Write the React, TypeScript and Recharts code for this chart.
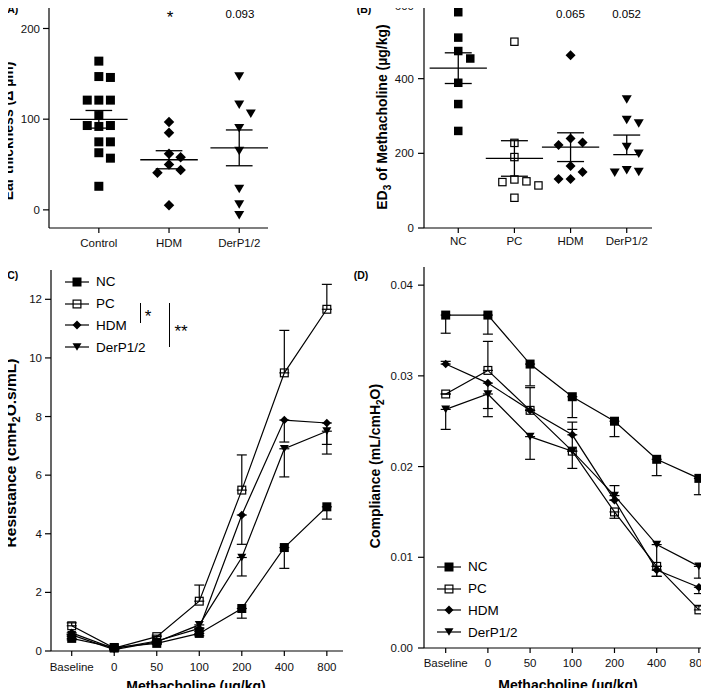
import React from "react";
import {
  ScatterChart,
  Scatter,
  LineChart,
  Line,
  XAxis,
  YAxis,
  ReferenceLine,
  ErrorBar,
  Legend,
} from "recharts";

const FONT = '"Liberation Sans", Arial, Helvetica, sans-serif';

// (A) ear thickness, delta µm
const earGroups = ["Control", "HDM", "DerP1/2"];
const earControl = [164, 147, 146, 121, 121, 121, 104, 93, 93, 92, 75, 75, 63, 57, 26];
const earHDM = [97, 85, 62, 58, 50, 44, 41, 5];
const earDerP = [147, 116, 106, 90, 65, 23, 6, -6];
const earPvals = ["", "*", "0.093"];

// (B) ED3 of methacholine, µg/kg
const edGroups = ["NC", "PC", "HDM", "DerP1/2"];
const edNC = [578, 510, 474, 454, 389, 332, 260];
const edPC = [499, 228, 190, 130, 125, 123, 114, 81];
const edHDM = [463, 240, 229, 222, 166, 150, 131, 131];
const edDerP = [344, 289, 280, 217, 199, 155, 150, 148];
const edPvals = ["", "", "0.065", "0.052"];

// (C) resistance and (D) compliance vs methacholine dose
const doses = ["Baseline", "0", "50", "100", "200", "400", "800"];
const seriesNames = ["NC", "PC", "HDM", "DerP1/2"];

const resNC = [0.43, 0.12, 0.26, 0.6, 1.45, 3.53, 4.92];
const resPC = [0.86, 0.1, 0.49, 1.7, 5.49, 9.49, 11.66];
const resHDM = [0.62, 0.08, 0.34, 0.77, 4.64, 7.88, 7.78];
const resDerP = [0.55, 0.05, 0.31, 0.89, 3.19, 6.9, 7.5];
// [down, up]
const resNCErr = [[0.05, 0], [0.03, 0], [0.04, 0], [0.08, 0], [0.33, 0], [0.71, 0], [0.42, 0]];
const resPCErr = [[0, 0.1], [0, 0.03], [0, 0.05], [0, 0.55], [0, 1.2], [0, 1.45], [0, 0.85]];
const resHDMErr = [[0.05, 0], [0.02, 0], [0.04, 0], [0.1, 0], [1.0, 0], [0.75, 0], [0.73, 0]];
const resDerPErr = [[0.05, 0], [0.02, 0], [0.04, 0], [0.1, 0], [0.63, 0], [0.96, 0], [0.78, 0]];

const compNC = [0.0367, 0.0367, 0.0313, 0.0277, 0.025, 0.0208, 0.0187];
const compPC = [0.028, 0.0306, 0.0262, 0.0217, 0.015, 0.009, 0.0042];
const compHDM = [0.0313, 0.0292, 0.0262, 0.0235, 0.0163, 0.0086, 0.0067];
const compDerP = [0.0263, 0.028, 0.0233, 0.0217, 0.0168, 0.0114, 0.009];
const compNCErr = [[0.002, 0], [0.0021, 0], [0.0024, 0], [0.0023, 0], [0.0017, 0], [0.0018, 0], [0.0018, 0]];
const compPCErr = [[0, 0], [0, 0.0032], [0, 0.0025], [0, 0.0024], [0.0007, 0], [0, 0], [0, 0.0005]];
const compHDMErr = [[0, 0.0003], [0.0028, 0], [0, 0], [0, 0.0014], [0, 0], [0.0007, 0], [0.0007, 0]];
const compDerPErr = [[0.0022, 0], [0.0025, 0], [0.0025, 0], [0.0019, 0], [0, 0.0011], [0.0035, 0], [0.0013, 0]];

type Kind = "square" | "open" | "diamond" | "tri";
const kinds: Record<string, Kind> = { nc: "square", pc: "open", hdm: "diamond", derp: "tri" };

function Marker({ kind, cx, cy, s }: { kind: Kind; cx: number; cy: number; s: number }) {
  const h = s / 2;
  if (kind === "square") return <rect x={cx - h} y={cy - h} width={s} height={s} fill="#000" />;
  if (kind === "open")
    return (
      <rect x={cx - h + 0.6} y={cy - h + 0.6} width={s - 1.2} height={s - 1.2} fill="none" stroke="#000" strokeWidth={1.2} />
    );
  if (kind === "diamond")
    return <polygon points={`${cx},${cy - h} ${cx + h},${cy} ${cx},${cy + h} ${cx - h},${cy}`} fill="#000" />;
  const t = h * 0.85;
  return <polygon points={`${cx - h},${cy - t} ${cx + h},${cy - t} ${cx},${cy + t}`} fill="#000" />;
}

const mean = (a: number[]) => a.reduce((s, v) => s + v, 0) / a.length;
const sem = (a: number[]) => {
  const m = mean(a);
  return Math.sqrt(a.reduce((s, v) => s + (v - m) ** 2, 0) / (a.length - 1) / a.length);
};

// simple beeswarm: push points sideways when they would overlap in the same column
function swarm(values: number[], pxPerUnit: number, gapPx: number) {
  const placed: { v: number; s: number }[] = [];
  const order = [0, 1, -1, 2, -2];
  return values.map((v) => {
    const s =
      order.find((o) => placed.every((p) => p.s !== o || Math.abs(p.v - v) * pxPerUnit >= gapPx)) ?? 0;
    placed.push({ v, s });
    return s;
  });
}

function points(values: number[], group: number, pxPerUnit: number, slot: number) {
  const slots = swarm(values, pxPerUnit, 10);
  return values.map((v, i) => ({ x: group + slots[i] * slot, y: v }));
}

function statLines(values: number[], g: number, meanHalf: number, capHalf: number) {
  const m = mean(values);
  const e = sem(values);
  const st = { stroke: "#000", strokeWidth: 1.3 };
  return [
    <ReferenceLine key={`m${g}`} segment={[{ x: g - meanHalf, y: m }, { x: g + meanHalf, y: m }]} {...st} />,
    <ReferenceLine key={`v${g}`} segment={[{ x: g, y: m - e }, { x: g, y: m + e }]} {...st} />,
    <ReferenceLine key={`h${g}`} segment={[{ x: g - capHalf, y: m + e }, { x: g + capHalf, y: m + e }]} {...st} />,
    <ReferenceLine key={`l${g}`} segment={[{ x: g - capHalf, y: m - e }, { x: g + capHalf, y: m - e }]} {...st} />,
  ];
}

const tickStyle = { fill: "#111", fontSize: 11.5, fontFamily: FONT };
const axisLine = { stroke: "#000", strokeWidth: 1.2 };

// rotated axis title; (cx, cy) is the centre of the glyphs
const vLabel = (cx: number, cy: number, content: React.ReactNode, size = 14) => () => (
  <text
    transform={`translate(${cx},${cy}) rotate(-90)`}
    y={size * 0.36}
    textAnchor="middle"
    fontFamily={FONT}
    fontWeight="bold"
    fontSize={size}
    fill="#000"
  >
    {content}
  </text>
);

const hLabel = (cx: number, cy: number) => () => (
  <text x={cx} y={cy + 5} textAnchor="middle" fontFamily={FONT} fontWeight="bold" fontSize={14} fill="#000">
    Methacholine (µg/kg)
  </text>
);

function buildRows(nc: number[], pc: number[], hdm: number[], derp: number[], e: number[][][]) {
  return doses.map((d, i) => ({
    x: i,
    dose: d,
    nc: nc[i],
    pc: pc[i],
    hdm: hdm[i],
    derp: derp[i],
    ncErr: e[0][i],
    pcErr: e[1][i],
    hdmErr: e[2][i],
    derpErr: e[3][i],
  }));
}

const resRows = buildRows(resNC, resPC, resHDM, resDerP, [resNCErr, resPCErr, resHDMErr, resDerPErr]);
const compRows = buildRows(compNC, compPC, compHDM, compDerP, [compNCErr, compPCErr, compHDMErr, compDerPErr]);

const renderLegend = (props: any) => {
  const items = [...(props.payload || [])].sort(
    (a: any, b: any) => seriesNames.indexOf(a.value) - seriesNames.indexOf(b.value)
  );
  return (
    <div style={{ fontFamily: FONT, fontSize: 13.5, color: "#000" }}>
      {items.map((entry: any) => (
        <div key={entry.value} style={{ display: "flex", alignItems: "center", height: 21.8 }}>
          <svg width={24} height={12} style={{ display: "block" }}>
            <line x1={0} y1={6} x2={24} y2={6} stroke="#000" strokeWidth={1.2} />
            <Marker kind={kinds[entry.dataKey]} cx={12} cy={6} s={9} />
          </svg>
          <span style={{ marginLeft: 7, lineHeight: 1 }}>{entry.value}</span>
        </div>
      ))}
    </div>
  );
};

function seriesLines() {
  const keys = ["nc", "pc", "hdm", "derp"];
  return keys.map((k, i) => (
    <Line
      key={k}
      dataKey={k}
      name={seriesNames[i]}
      stroke="#000"
      strokeWidth={1.2}
      dot={(p: any) => <Marker key={`${k}${p.index}`} kind={kinds[k]} cx={p.cx} cy={p.cy} s={kinds[k] === "diamond" ? 8.5 : 9} />}
      activeDot={false}
      isAnimationActive={false}
    >
      <ErrorBar dataKey={`${k}Err`} width={5} stroke="#000" strokeWidth={1.2} />
    </Line>
  ));
}

const note = (left: number, top: number, text: string, extra: React.CSSProperties = {}) => (
  <div
    key={`${text}${left}`}
    style={{
      position: "absolute",
      left,
      top,
      transform: "translate(-50%, -50%)",
      fontFamily: FONT,
      fontSize: 11.5,
      color: "#000",
      whiteSpace: "nowrap",
      lineHeight: 1,
      ...extra,
    }}
  >
    {text}
  </div>
);

export default function App() {
  const earPx = 181.4 / 200;
  const edPx = 224 / 600;
  return (
    <div style={{ position: "relative", width: 709, height: 696, margin: -8, overflow: "hidden", background: "#fff" }}>
      {/* (A) */}
      <div style={{ position: "absolute", left: 0, top: 0 }}>
        <ScatterChart width={355} height={260} margin={{ top: 4, right: 87, bottom: 0, left: 0 }}>
          <XAxis
            type="number"
            dataKey="x"
            domain={[0.29, 3.41]}
            ticks={[1, 2, 3]}
            tickFormatter={(v: number) => earGroups[v - 1]}
            interval={0}
            height={32}
            tick={tickStyle}
            axisLine={axisLine}
            tickLine={axisLine}
            tickSize={5}
            tickMargin={6}
          />
          <YAxis
            type="number"
            dataKey="y"
            domain={[-20, 227]}
            ticks={[0, 100, 200]}
            width={49}
            tick={tickStyle}
            axisLine={axisLine}
            tickLine={axisLine}
            tickSize={6}
            tickMargin={3}
            label={vLabel(8, 131, "Ear thickness (Δ µm)")}
          />
          <Scatter data={points(earControl, 1, earPx, 0.165)} isAnimationActive={false}
            shape={(p: any) => <Marker kind="square" cx={p.cx} cy={p.cy} s={9} />} />
          <Scatter data={points(earHDM, 2, earPx, 0.165)} isAnimationActive={false}
            shape={(p: any) => <Marker kind="diamond" cx={p.cx} cy={p.cy} s={10.5} />} />
          <Scatter data={points(earDerP, 3, earPx, 0.165)} isAnimationActive={false}
            shape={(p: any) => <Marker kind="tri" cx={p.cx} cy={p.cy} s={10} />} />
          {statLines(earControl, 1, 0.41, 0.19)}
          {statLines(earHDM, 2, 0.41, 0.19)}
          {statLines(earDerP, 3, 0.41, 0.19)}
        </ScatterChart>
      </div>
      {note(11, 9, "(A)", { fontWeight: "bold", fontSize: 10.5 })}
      {earPvals.map((t, i) => (t ? note(100 + i * 70, t === "*" ? 17 : 15, t, t === "*" ? { fontSize: 17 } : {}) : null))}

      {/* (B) */}
      <div style={{ position: "absolute", left: 355, top: 0 }}>
        <ScatterChart width={354} height={260} margin={{ top: 4, right: 57, bottom: 0, left: 0 }}>
          <XAxis
            type="number"
            dataKey="x"
            domain={[0.39, 4.45]}
            ticks={[1, 2, 3, 4]}
            tickFormatter={(v: number) => edGroups[v - 1]}
            interval={0}
            height={32}
            tick={tickStyle}
            axisLine={axisLine}
            tickLine={axisLine}
            tickSize={5}
            tickMargin={4}
          />
          <YAxis
            type="number"
            dataKey="y"
            domain={[0, 600]}
            ticks={[0, 200, 400, 600]}
            width={69}
            tick={tickStyle}
            axisLine={axisLine}
            tickLine={axisLine}
            tickSize={6}
            tickMargin={4}
            label={vLabel(
              27,
              117,
              <>
                ED<tspan fontSize={10} dy={4}>3</tspan>
                <tspan dy={-4}> of Methacholine (µg/kg)</tspan>
              </>
            )}
          />
          <Scatter data={points(edNC, 1, edPx, 0.214)} isAnimationActive={false}
            shape={(p: any) => <Marker kind="square" cx={p.cx} cy={p.cy} s={8.5} />} />
          <Scatter data={points(edPC, 2, edPx, 0.214)} isAnimationActive={false}
            shape={(p: any) => <Marker kind="open" cx={p.cx} cy={p.cy} s={8.5} />} />
          <Scatter data={points(edHDM, 3, edPx, 0.214)} isAnimationActive={false}
            shape={(p: any) => <Marker kind="diamond" cx={p.cx} cy={p.cy} s={10} />} />
          <Scatter data={points(edDerP, 4, edPx, 0.214)} isAnimationActive={false}
            shape={(p: any) => <Marker kind="tri" cx={p.cx} cy={p.cy} s={10} />} />
          {statLines(edNC, 1, 0.51, 0.24)}
          {statLines(edPC, 2, 0.51, 0.24)}
          {statLines(edHDM, 3, 0.51, 0.24)}
          {statLines(edDerP, 4, 0.51, 0.24)}
        </ScatterChart>
      </div>
      {note(364, 9, "(B)", { fontWeight: "bold", fontSize: 10.5 })}
      {edPvals.map((t, i) => (t ? note(458 + i * 56.2, 15, t) : null))}

      {/* (C) */}
      <div style={{ position: "absolute", left: 0, top: 260 }}>
        <LineChart width={355} height={436} data={resRows} margin={{ top: 10, right: 12, bottom: 0, left: 0 }}>
          <XAxis
            type="number"
            dataKey="x"
            domain={[-0.487, 6.38]}
            ticks={[0, 1, 2, 3, 4, 5, 6]}
            tickFormatter={(v: number) => doses[v]}
            interval={0}
            height={45}
            tick={tickStyle}
            axisLine={axisLine}
            tickLine={axisLine}
            tickSize={5}
            tickMargin={7}
            label={hLabel(196, 426)}
          />
          <YAxis
            type="number"
            domain={[0, 13]}
            ticks={[0, 2, 4, 6, 8, 10, 12]}
            width={51}
            tick={tickStyle}
            axisLine={axisLine}
            tickLine={axisLine}
            tickSize={6}
            tickMargin={3}
            label={vLabel(
              10,
              193,
              <>
                Resistance (cmH<tspan fontSize={11} dy={4}>2</tspan>
                <tspan dy={-4}>O.s/mL)</tspan>
              </>,
              15.5
            )}
          />
          {seriesLines()}
          <Legend
            layout="vertical"
            align="center"
            verticalAlign="middle"
            content={renderLegend}
            wrapperStyle={{ left: 65, top: 11, width: 120 }}
          />
        </LineChart>
      </div>
      {note(11, 275, "(C)", { fontWeight: "bold", fontSize: 10.5 })}
      <div style={{ position: "absolute", left: 140, top: 303, height: 20, borderLeft: "1.3px solid #000" }} />
      {note(148, 316, "*", { fontSize: 17 })}
      <div style={{ position: "absolute", left: 169, top: 303, height: 44, borderLeft: "1.3px solid #000" }} />
      {note(181, 331, "**", { fontSize: 17 })}

      {/* (D) */}
      <div style={{ position: "absolute", left: 355, top: 260 }}>
        <LineChart width={380} height={436} data={compRows} margin={{ top: 7, right: 17, bottom: 0, left: 0 }}>
          <XAxis
            type="number"
            dataKey="x"
            domain={[-0.514, 6.453]}
            ticks={[0, 1, 2, 3, 4, 5, 6]}
            tickFormatter={(v: number) => doses[v]}
            interval={0}
            height={48}
            tick={tickStyle}
            axisLine={axisLine}
            tickLine={axisLine}
            tickSize={5}
            tickMargin={6}
            label={hLabel(213, 425)}
          />
          <YAxis
            type="number"
            domain={[0, 0.042]}
            ticks={[0, 0.01, 0.02, 0.03, 0.04]}
            tickFormatter={(v: number) => v.toFixed(2)}
            width={69}
            tick={tickStyle}
            axisLine={axisLine}
            tickLine={axisLine}
            tickSize={6}
            tickMargin={5}
            label={vLabel(
              20,
              206,
              <>
                Compliance (mL/cmH<tspan fontSize={10} dy={4}>2</tspan>
                <tspan dy={-4}>O)</tspan>
              </>
            )}
          />
          {seriesLines()}
          <Legend
            layout="vertical"
            align="center"
            verticalAlign="middle"
            content={renderLegend}
            wrapperStyle={{ left: 82, top: 296, width: 120 }}
          />
        </LineChart>
      </div>
      {note(361, 275, "(D)", { fontWeight: "bold", fontSize: 10.5 })}
    </div>
  );
}
